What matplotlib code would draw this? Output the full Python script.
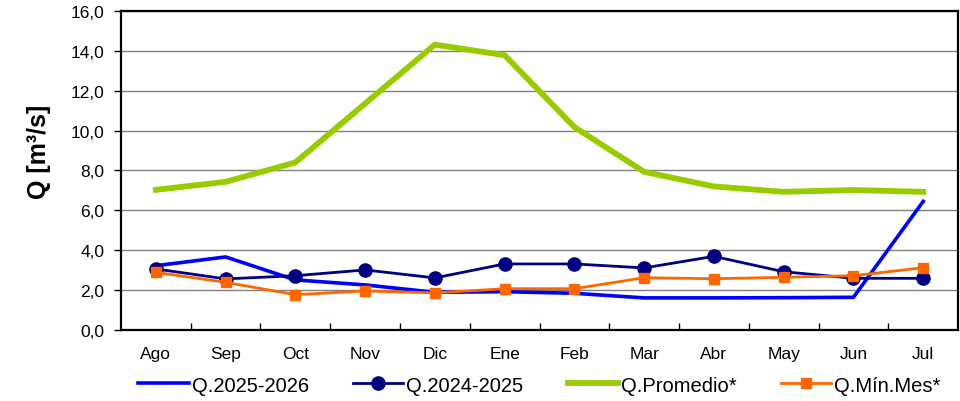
import matplotlib
matplotlib.use("Agg")
import matplotlib.pyplot as plt
import numpy as np

plt.rcParams['font.family'] = ['Liberation Sans', 'DejaVu Sans']

meses = ["Ago", "Sep", "Oct", "Nov", "Dic", "Ene", "Feb", "Mar", "Abr", "May", "Jun", "Jul"]

q_2025_2026 = [3.23, 3.67, 2.52, 2.27, 1.90, 1.93, 1.85, 1.62, 1.62, 1.63, 1.65, 6.45]
q_2024_2025 = [3.07, 2.57, 2.73, 3.02, 2.62, 3.32, 3.32, 3.12, 3.70, 2.93, 2.60, 2.60]
q_promedio = [7.03, 7.43, 8.40, 11.35, 14.30, 13.77, 10.17, 7.93, 7.20, 6.93, 7.02, 6.93]
q_min_mes = [2.90, 2.40, 1.78, 1.97, 1.87, 2.08, 2.08, 2.63, 2.58, 2.65, 2.73, 3.13]

x = np.arange(len(meses))

fig = plt.figure(figsize=(9.6, 4.02), dpi=100)
ax = fig.add_axes([0.126, 0.176, 0.872, 0.795])

ax.plot(x, q_2025_2026, color="#0000FF", lw=2.6, label="Q.2025-2026", zorder=3)
ax.plot(x, q_2024_2025, color="#000080", lw=2.0, marker="o", ms=9.5, label="Q.2024-2025", zorder=4)
ax.plot(x, q_promedio, color="#99CC00", lw=4.2, label="Q.Promedio*", zorder=3)
ax.plot(x, q_min_mes, color="#FF6600", lw=2.0, marker="s", ms=7.5, label="Q.Mín.Mes*", zorder=5)

ax.set_xlim(-0.5, len(meses) - 0.5)
ax.set_ylim(0, 16)
ax.set_yticks(np.arange(0, 16.1, 2))
ax.set_yticklabels([f"{v:.1f}".replace(".", ",") for v in np.arange(0, 16.1, 2)], fontsize=12.5)
ax.yaxis.grid(True, color="#808080", lw=1.0)
ax.set_axisbelow(True)

ax.set_xticks(x)
ax.set_xticklabels(meses, fontsize=12.5)
ax.tick_params(axis="x", which="major", length=0, pad=11)
ax.set_xticks(np.arange(0.5, len(meses) - 0.5, 1), minor=True)
ax.tick_params(axis="x", which="minor", direction="in", length=5, width=1)
ax.tick_params(axis="y", direction="out", length=5, width=1, pad=7)

for s in ax.spines.values():
    s.set_linewidth(1.6)
    s.set_color("black")

ax.set_ylabel("Q [m³/s]", fontsize=18, fontweight="bold")
ax.yaxis.set_label_coords(-0.083, 0.56)

ax.legend(loc="upper center", bbox_to_anchor=(0.5, -0.085), ncol=4, frameon=False,
          fontsize=14.5, handlelength=2.5, handletextpad=0.15, columnspacing=2.2)

fig.savefig("out.png", dpi=100)
